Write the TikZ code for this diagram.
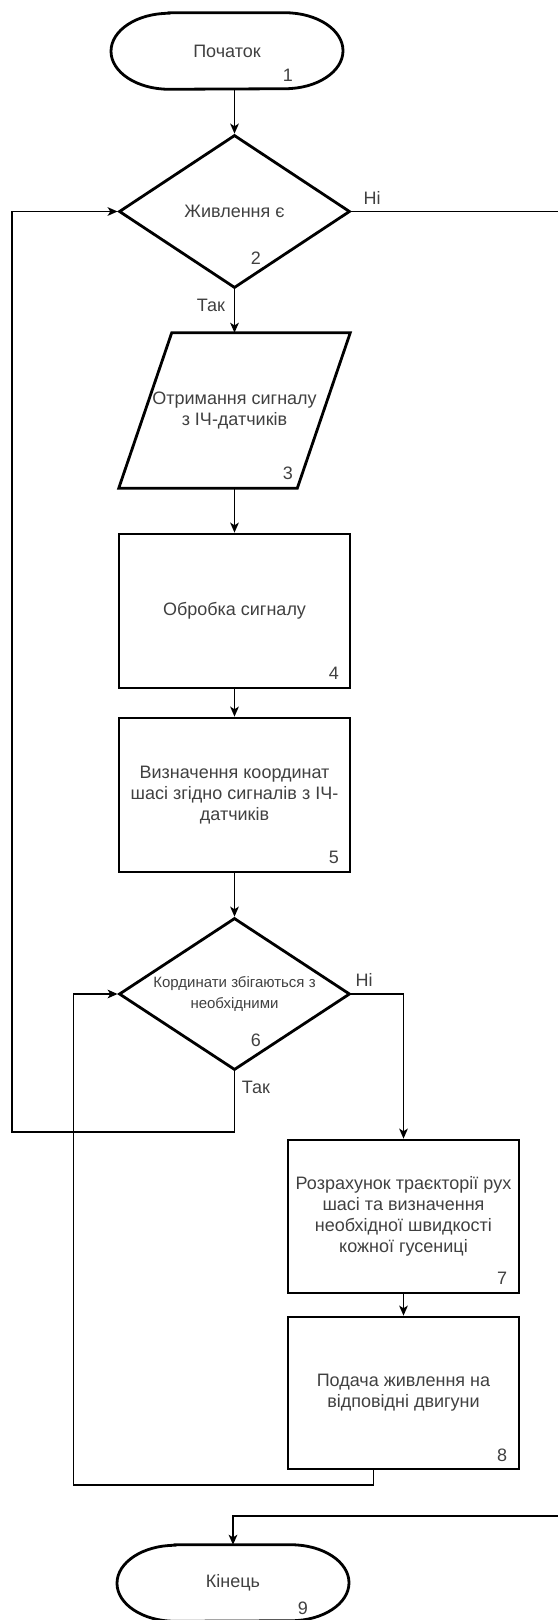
\documentclass[tikz,border=0pt]{standalone}
\usepackage{fontspec}
\setmainfont{Liberation Sans}
\usetikzlibrary{shapes.geometric,arrows.meta,calc}
\definecolor{txt}{RGB}{64,64,64}
\newcommand\termshape[1]{%
  \draw[shp] ($(#1.north)+(-58,0)$) -- ($(#1.north)+(58,0)$)
    arc[start angle=90,end angle=-90,x radius=43.5pt,y radius=28.5pt]
    -- ($(#1.south)+(-58,0)$)
    arc[start angle=270,end angle=90,x radius=43.5pt,y radius=28.5pt] -- cycle;}
\begin{document}
\begin{tikzpicture}[x=0.75pt,y=-0.75pt,
  every node/.style={font=\fontsize{13.5pt}{15.75pt}\selectfont, text=txt, inner sep=0pt},
  shp/.style={line width=2.1pt, draw=black},
  box/.style={shp, rectangle, minimum width=173.25pt, minimum height=115.5pt, align=center},
  term/.style={minimum width=174pt, minimum height=57pt},
  para/.style={minimum width=173.25pt, minimum height=116.25pt, align=center},
  dia/.style={shp, diamond, aspect=1.52, minimum width=173.25pt, minimum height=114.75pt, align=center},
  num/.style={anchor=center},
  lbl/.style={anchor=center},
  con/.style={line width=1.1pt, draw=black},
  arr/.style={con, -{Stealth[length=7.5pt,width=6.5pt,inset=2pt]}}
]
\useasboundingbox (0,0) rectangle (557,1620);

% nodes
\node[term] (t1) at (227,51) {Початок};
\termshape{t1}
\node[num] (n1) at (288,75) {1};

\node[dia] (d2) at (234.5,211.5) {Живлення є};
\node[num] (n2) at (256,258) {2};

\node[para] (p) at (234.5,410.5) {Отримання сигналу\\з ІЧ-датчиків};
\draw[shp] ($(p.north west)+(53,0)$) -- (p.north east) -- ($(p.south east)+(-53,0)$) -- (p.south west) -- cycle;
\node[num] (n3) at (288,473) {3};

\node[box] (r4) at (234.5,611) {Обробка сигналу};
\node[num] (n4) at (334,673) {4};

\node[box] (r5) at (234.5,795) {Визначення координат\\шасі згідно сигналів з ІЧ-\\датчиків};
\node[num] (n5) at (334,857) {5};

\node[dia, minimum height=114pt] (d6) at (234.5,994) {\fontsize{11.25pt}{15.75pt}\selectfont Кординати збігаються з\\\fontsize{11.25pt}{15.75pt}\selectfont необхідними};
\node[num] (n6) at (256,1040) {6};

\node[box, minimum height=114.75pt] (r7) at (403.5,1216.5) {Розрахунок траєкторії рух\\шасі та визначення\\необхідної швидкості\\кожної гусениці};
\node[num] (n7) at (502,1278) {7};

\node[box, minimum height=114pt] (r8) at (403.5,1393) {Подача живлення на\\відповідні двигуни};
\node[num] (n8) at (502,1455) {8};

\node[term] (t9) at (233,1583) {Кінець};
\termshape{t9}
\node[num] (n9) at (303,1608) {9};

% labels
\node[lbl] (lt1) at (211,305) {Так};
\node[lbl] (ln1) at (372,198) {Ні};
\node[lbl] (ln2) at (364,980) {Ні};
\node[lbl] (lt2) at (256,1087) {Так};

% helper coordinates
\coordinate (r1) at (561,211.5);
\coordinate (rr2) at (561,1516);
\coordinate (c2) at (12,1132);
\coordinate (c4) at (73.5,1485);

% connectors
\draw[arr] (t1.south -| d2.north) -- (d2.north);
\draw[arr] (d2.south) -- (p.north -| d2.south);
\draw[arr] (p.south -| d2.south) -- (r4.north);
\draw[arr] (r4.south) -- (r5.north);
\draw[arr] (r5.south) -- (d6.north);
\draw[arr] (d6.east) -| (r7.north);
\draw[arr] (r7.south) -- (r8.north);
\draw[arr] (d6.south) |- (c2) |- (d2.west);
\draw[arr] ([xshift=-22.5pt]r8.south) |- (c4) |- (d6.west);
\draw[arr] (d2.east) -- (r1) -- (rr2) -| (t9.north);
\end{tikzpicture}
\end{document}
